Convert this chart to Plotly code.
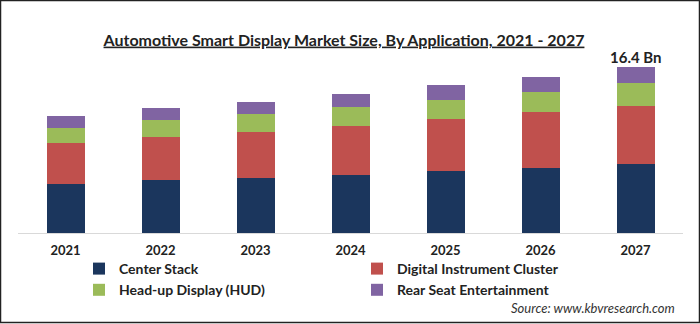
import plotly.graph_objects as go

years = ["2021", "2022", "2023", "2024", "2025", "2026", "2027"]
center_stack = [4.88, 5.25, 5.48, 5.77, 6.17, 6.44, 6.79]
digital_cluster = [4.06, 4.29, 4.52, 4.85, 5.08, 5.50, 5.81]
hud = [1.49, 1.62, 1.81, 1.81, 1.95, 2.05, 2.21]
rear_seat = [1.19, 1.22, 1.19, 1.36, 1.46, 1.49, 1.58]
series_names = ["Center Stack", "Digital Instrument Cluster", "Head-up Display (HUD)", "Rear Seat Entertainment"]
colors = ["#1b365d", "#c0504d", "#9bbb59", "#8064a2"]
total_label = "16.4 Bn"

W, H = 700, 324
L, R, T, B = 18, 17, 50, 91
pw, ph = W - L - R, H - T - B

fig = go.Figure()
for name, vals, col in zip(series_names, [center_stack, digital_cluster, hud, rear_seat], colors):
    fig.add_trace(go.Bar(x=years, y=vals, name=name, marker=dict(color=col, line=dict(width=0))))

def px_x(p):
    return (p - L) / pw

def px_y(p):
    return (H - B - p) / ph

fig.update_layout(
    width=W, height=H,
    margin=dict(l=L, r=R, t=T, b=B, autoexpand=False),
    barmode="stack", bargap=0.6,
    paper_bgcolor="white", plot_bgcolor="white",
    font=dict(family="Lato, Liberation Sans, sans-serif", color="#222222"),
    showlegend=True,
    legend=dict(orientation="h", x=px_x(79), y=px_y(253), xanchor="left", yanchor="top",
                entrywidth=233, entrywidthmode="pixels", traceorder="normal",
                font=dict(size=14, color="#222222", weight="bold"), tracegroupgap=0,
                itemwidth=30, bgcolor="rgba(0,0,0,0)"),
    xaxis=dict(type="category", range=[-0.5, len(years) - 0.5], showgrid=False, showline=True,
               linecolor="#d9d9d9", linewidth=1,
               tickfont=dict(size=13, color="#222222", weight="bold"), ticks="",
               ticklabelstandoff=5, fixedrange=True),
    yaxis=dict(range=[0, ph / 10.1], showgrid=False, showticklabels=False, zeroline=False,
               showline=False, fixedrange=True),
    title=dict(text="<u>Automotive Smart Display Market Size, By Application, 2021 - 2027</u>",
               x=344 / W, xanchor="center", y=1 - 40 / H, yanchor="middle",
               font=dict(size=16, color="#222222", weight="bold")),
)

totals = [a + b + c + d for a, b, c, d in zip(center_stack, digital_cluster, hud, rear_seat)]
fig.add_annotation(x=len(years) - 1, y=totals[-1], text=total_label, showarrow=False,
                   yanchor="bottom", yshift=-1, font=dict(size=15, color="#222222", weight="bold"))

fig.add_annotation(xref="paper", yref="paper", x=px_x(677), y=px_y(308), text="<i>Source: www.kbvresearch.com</i>",
                   showarrow=False, xanchor="right", yanchor="middle",
                   font=dict(size=13, color="#333333"))

fig.add_shape(type="rect", xref="paper", yref="paper",
              x0=px_x(0.5), x1=px_x(699.5), y0=px_y(322.5), y1=px_y(0.5),
              line=dict(color="#222222", width=1.5), fillcolor="rgba(0,0,0,0)", layer="above")

fig.write_html("out.html")
